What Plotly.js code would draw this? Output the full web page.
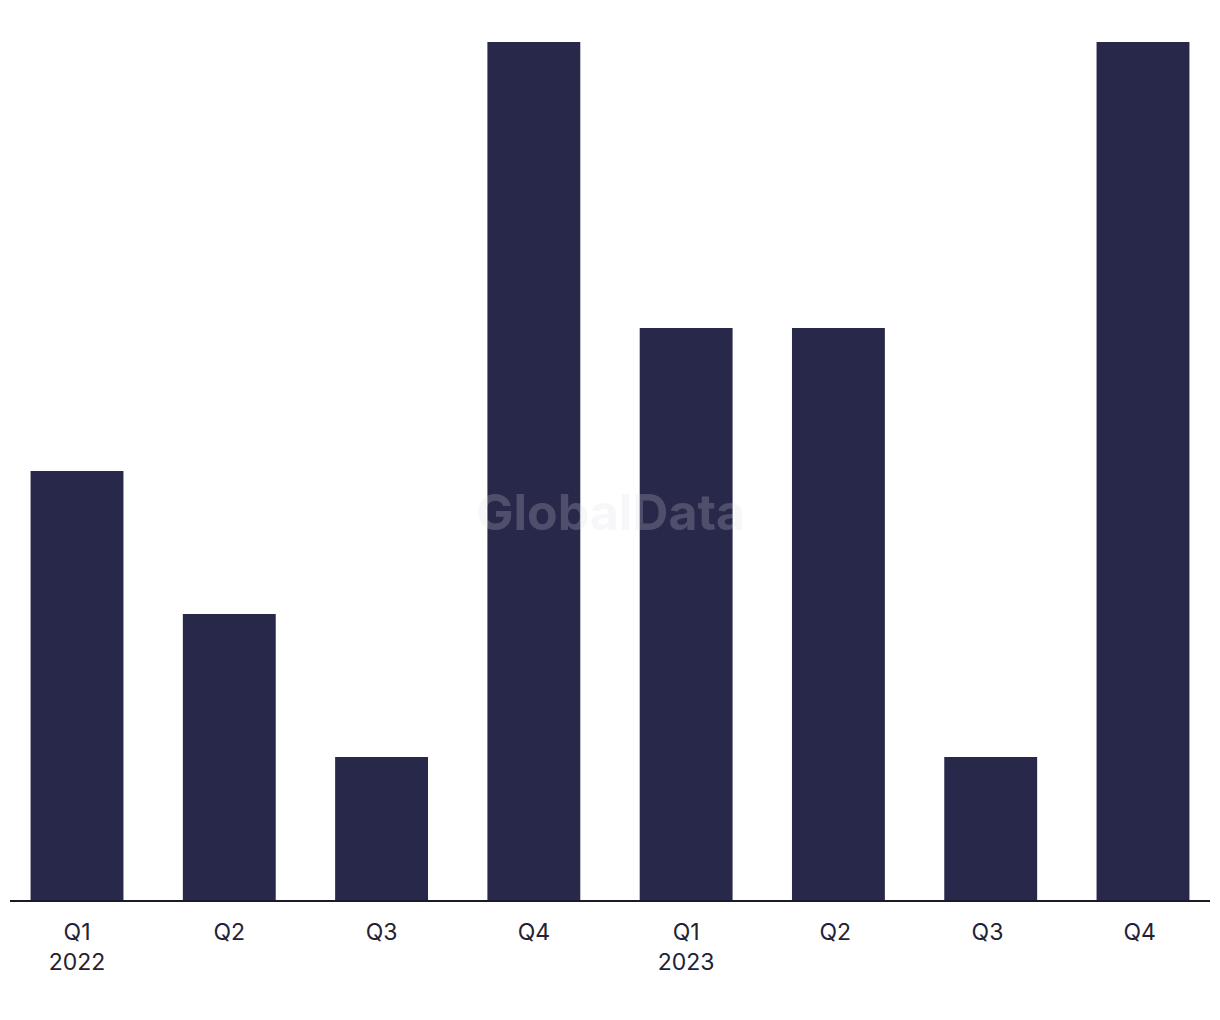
<!DOCTYPE html>
<html>
<head>
<meta charset="utf-8">
<script src="https://cdn.plot.ly/plotly-3.0.1.min.js"></script>
<style>html,body{margin:0;padding:0;background:#fff;}#chart{width:1220px;height:1020px;}</style>
</head>
<body>
<div id="chart"></div>
<script>
const quarters = ["Q1<br>2022", "Q2", "Q3", "Q4", "Q1<br>2023", "Q2 ", "Q3 ", "Q4 "];
const dealCounts = [3, 2, 1, 6, 4, 4, 1, 6];

const trace = {
  type: "bar",
  x: quarters,
  y: dealCounts,
  marker: { color: "#28284a" },
  hoverinfo: "x+y"
};

const layout = {
  width: 1220,
  height: 1020,
  margin: { l: 10, r: 10, t: 42, b: 120 },
  paper_bgcolor: "#ffffff",
  plot_bgcolor: "#ffffff",
  bargap: 0.39,
  showlegend: false,
  xaxis: {
    type: "category",
    range: [-0.44, 7.44],
    showline: true,
    linecolor: "#1a1a2a",
    linewidth: 2,
    ticks: "",
    ticklabelstandoff: 10,
    showgrid: false,
    zeroline: false,
    tickfont: { family: "Inter, Liberation Sans, Arial, sans-serif", size: 23, color: "#222233" }
  },
  yaxis: {
    range: [0, 6],
    showgrid: false,
    zeroline: false,
    showticklabels: false,
    ticks: ""
  },
  annotations: [{
    text: "<b>GlobalData</b>",
    xref: "paper", yref: "paper",
    x: 0.5, y: 0.452,
    showarrow: false,
    font: { family: "Inter, Liberation Sans, Arial, sans-serif", size: 50, color: "rgba(220,220,232,0.22)" }
  }]
};

Plotly.newPlot("chart", [trace], layout, { displayModeBar: false, staticPlot: true });
</script>
</body>
</html>
